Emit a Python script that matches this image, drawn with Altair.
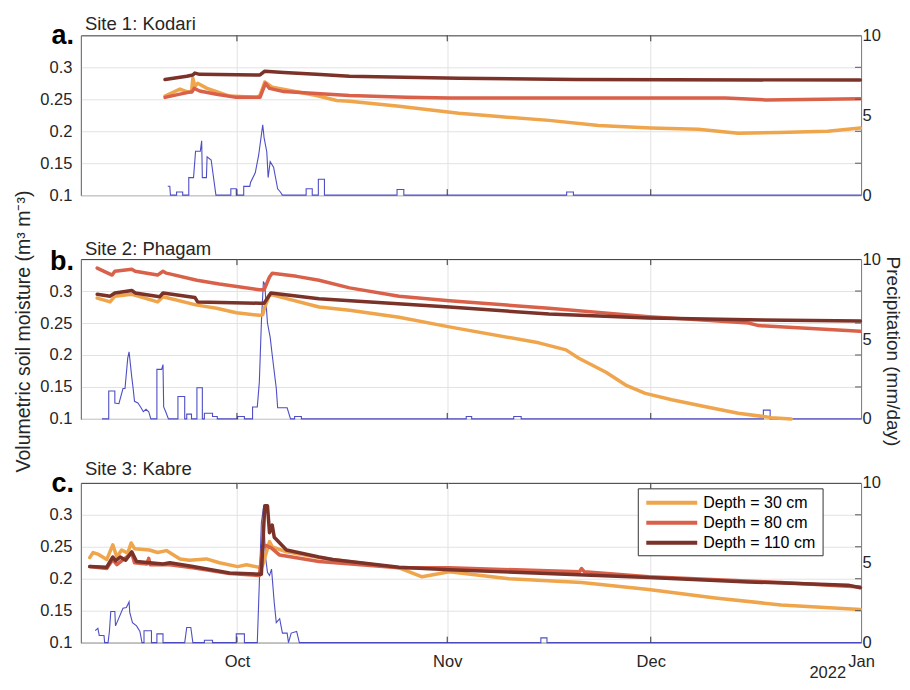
import altair as alt
import pandas as pd

FONT = "Liberation Sans"
TXT = "#262626"
GRID = "#e2e2e2"
BLUE = "#3b3bbf"

DEPTHS = ["Depth = 30 cm", "Depth = 80 cm", "Depth = 110 cm"]
DEPTH_COLORS = ["#EFA54C", "#D9614A", "#7A3229"]
SITE_TITLES = ["Site 1: Kodari", "Site 2: Phagam", "Site 3: Kabre"]
PANEL_LETTERS = ["a.", "b.", "c."]
MONTH_TICKS = ["2021-10-01", "2021-11-01", "2021-12-01"]
SM_TICKS = [0.15, 0.2, 0.25, 0.3]
YEAR_LABEL = ["2022"]
LEGEND_ROWS = [0, 1, 2]
LEFT_TITLE = "Volumetric soil moisture (m³ m⁻³)"
RIGHT_TITLE = "Precipitation (mm/day)"

# (days since 2021-09-01, volumetric soil moisture)
KOD_30 = [(19.4,0.255),(21.6,0.266),(22.6,0.262),(23.3,0.261),(23.5,0.283),(23.8,0.270),(24.2,0.275),
          (25.6,0.267),(27.0,0.262),(28.9,0.255),(32.9,0.253),(33.4,0.256),(34.1,0.277),(35.2,0.269),
          (39.2,0.261),(41.7,0.256),(44.7,0.248),(46.6,0.247),(53.9,0.239),(62.7,0.228),(68.6,0.223),
          (76.0,0.217),(83.3,0.209),(91.0,0.205),(98.0,0.203),(103.9,0.197),(109.8,0.198),(117.1,0.200),
          (121.9,0.205)]
KOD_80 = [(19.4,0.253),(21.6,0.258),(23.4,0.262),(23.7,0.267),(24.5,0.263),(27.0,0.258),(29.9,0.253),
          (33.4,0.253),(34.2,0.275),(34.8,0.267),(36.9,0.262),(41.7,0.259),(46.6,0.256),(55.0,0.253),
          (61.3,0.252),(102.0,0.252),(108.0,0.249),(121.9,0.251)]
KOD_110 = [(19.4,0.281),(22.6,0.286),(23.5,0.288),(23.8,0.291),(24.5,0.289),(33.4,0.288),(34.1,0.294),
           (36.9,0.292),(41.7,0.289),(46.6,0.286),(62.7,0.283),(80.0,0.281),(121.9,0.280)]

PHA_30 = [(9.4,0.289),(11.3,0.283),(12.0,0.292),(14.5,0.295),(18.3,0.283),(19.1,0.291),(24.1,0.278),
          (27.0,0.273),(29.9,0.266),(33.3,0.262),(33.8,0.263),(34.1,0.275),(34.8,0.294),(35.2,0.294),
          (42.1,0.275),(46.6,0.270),(53.9,0.259),(61.3,0.244),(74.5,0.219),(78.5,0.208),(80.4,0.195),
          (84.4,0.173),(87.3,0.153),(90.2,0.140),(94.1,0.130),(99.1,0.119),(103.9,0.109),(108.8,0.102),
          (111.7,0.100)]
PHA_80 = [(9.4,0.336),(11.6,0.325),(12.0,0.331),(14.5,0.334),(15.0,0.331),(18.3,0.325),(19.1,0.331),
          (19.6,0.328),(24.1,0.317),(27.4,0.311),(33.3,0.302),(34.0,0.302),(34.8,0.322),(35.2,0.328),
          (38.8,0.323),(42.1,0.317),(46.6,0.305),(53.9,0.292),(61.3,0.285),(76.0,0.273),(90.7,0.260),
          (105.4,0.250),(106.9,0.246),(121.9,0.237)]
PHA_110 = [(9.4,0.295),(11.3,0.292),(12.0,0.297),(14.5,0.301),(15.0,0.297),(18.6,0.291),(19.1,0.297),
           (23.8,0.290),(24.2,0.283),(33.3,0.281),(34.0,0.281),(35.0,0.297),(42.1,0.288),(61.3,0.275),
           (76.0,0.264),(90.7,0.258),(105.4,0.255),(121.9,0.253)]

KAB_30 = [(8.3,0.233),(8.8,0.241),(9.6,0.238),(10.8,0.230),(11.7,0.253),(12.3,0.234),(13.0,0.245),
          (13.9,0.240),(14.4,0.256),(14.9,0.247),(17.1,0.245),(18.3,0.241),(19.6,0.244),(21.6,0.231),
          (23.0,0.229),(25.5,0.231),(27.4,0.225),(30.1,0.219),(31.4,0.222),(33.6,0.217),(33.8,0.222),
          (34.8,0.258),(35.2,0.250),(37.3,0.242),(42.1,0.233),(53.9,0.217),(57.3,0.203),(61.3,0.211),
          (70.1,0.200),(80.8,0.194),(90.7,0.183),(100.5,0.170),(110.2,0.159),(121.9,0.152)]
KAB_80 = [(8.3,0.219),(10.8,0.216),(11.7,0.230),(12.3,0.222),(13.0,0.228),(14.5,0.240),(14.9,0.225),
          (16.7,0.223),(17.0,0.232),(17.2,0.222),(20.1,0.222),(23.5,0.217),(28.9,0.208),(33.3,0.205),
          (33.8,0.250),(34.3,0.252),(35.1,0.248),(36.3,0.237),(42.1,0.227),(53.9,0.217),(61.3,0.217),
          (80.5,0.211),(80.8,0.216),(81.2,0.211),(90.7,0.203),(110.2,0.194),(121.9,0.187)]
KAB_110 = [(8.3,0.219),(10.8,0.218),(11.7,0.234),(12.1,0.228),(12.8,0.234),(13.6,0.229),(14.5,0.242),
           (15.2,0.227),(19.1,0.223),(20.1,0.225),(23.5,0.219),(28.9,0.209),(33.6,0.207),(34.1,0.314),
           (34.5,0.314),(34.8,0.272),(35.2,0.284),(35.5,0.265),(37.3,0.245),(42.1,0.234),(44.1,0.230),
           (53.9,0.218),(61.3,0.214),(90.7,0.202),(105.4,0.195),(120.1,0.190),(121.9,0.186)]

# (days since 2021-09-01, precipitation mm/day)
KOD_RAIN = [(19.8,0.56),(20.1,0.56),(20.2,0),(21.1,0),(21.1,0.2),(22.0,0.2),(22.0,0),(22.9,0),(22.9,1.1),
            (23.6,1.1),(23.9,2.75),(24.6,2.75),(24.8,3.4),(24.9,1.1),(25.5,1.1),(25.6,2.4),(26.2,2.2),
            (26.9,0),(29.1,0),(29.1,0.4),(29.9,0.4),(29.9,0),(31.0,0),(31.0,0.55),(31.9,0.55),(32.0,0.8),
            (32.7,1.4),(33.2,2.5),(33.8,4.4),(34.0,3.6),(34.4,2.7),(34.6,1.1),(34.9,2.1),(35.4,1.75),
            (36.0,0.4),(36.4,0.2),(36.7,0),(40.2,0),(40.2,0.4),(41.1,0.4),(41.1,0),(42.0,0),(42.0,1.0),
            (42.9,1.0),(42.9,0),(53.6,0),(53.6,0.35),(54.6,0.35),(54.6,0),(78.6,0),(78.6,0.2),(79.6,0.2),
            (79.6,0),(122.0,0)]
PHA_RAIN = [(10.1,0),(11.1,0),(11.1,1.75),(12.0,1.75),(12.0,1.0),(12.6,0.95),(13.2,1.9),(13.5,1.9),
            (13.9,3.8),(14.1,4.2),(14.5,2.6),(14.7,1.9),(14.9,1.1),(15.4,1.0),(15.8,0.75),(16.2,0.45),
            (16.6,0.6),(17.0,0.45),(17.3,0),(18.2,0),(18.2,3.1),(18.9,3.1),(19.1,3.4),(19.2,0.75),
            (19.5,0.45),(19.9,0),(21.3,0),(21.3,1.4),(22.3,1.4),(22.3,0),(22.6,0),(22.6,0.3),(23.3,0.3),
            (23.3,0),(24.1,0),(24.1,1.95),(24.9,1.95),(24.9,0),(25.2,0),(25.2,0.35),(26.4,0.35),
            (26.4,0.15),(27.1,0.15),(27.1,0),(30.1,0),(30.1,0.15),(31.1,0.15),(31.1,0),(32.3,0),
            (32.3,0.75),(33.0,0.75),(33.3,2.3),(33.6,6.0),(33.9,8.6),(34.1,8.4),(34.5,6.0),(34.9,5.1),
            (35.2,4.0),(35.8,1.9),(36.0,0.7),(37.4,0.7),(37.9,0),(38.5,0),(38.5,0.15),(39.5,0.15),
            (39.5,0),(63.8,0),(63.8,0.15),(64.6,0.15),(64.6,0),(70.8,0),(70.8,0.15),(71.9,0.15),(71.9,0),
            (107.6,0),(107.6,0.55),(108.6,0.55),(108.6,0),(122.0,0)]
KAB_RAIN = [(9.1,0.75),(9.5,0.9),(9.7,0.45),(10.4,0.45),(10.5,0),(11.0,0),(11.2,0.7),(11.4,1.95),
            (12.0,1.95),(12.1,1.05),(12.6,1.55),(13.2,2.15),(13.7,2.2),(14.1,2.55),(14.2,1.9),(14.6,1.25),
            (15.2,1.05),(15.7,0.7),(16.0,0),(16.3,0),(16.3,0.75),(17.4,0.75),(17.4,0),(18.2,0),(18.2,0.55),
            (19.1,0.55),(19.1,0),(22.3,0),(22.6,0.95),(23.2,0.95),(23.5,0),(25.2,0),(25.2,0.15),(26.4,0.15),
            (26.4,0),(29.9,0),(29.9,0.55),(31.1,0.55),(31.1,0),(33.0,0),(33.6,7.5),(33.9,8.4),(34.2,5.4),
            (34.5,4.4),(34.8,4.2),(35.1,4.6),(35.5,2.5),(35.8,1.25),(36.3,1.5),(36.7,0.6),(37.4,0.6),
            (37.6,0),(38.0,0.6),(38.8,0.7),(39.2,0),(74.8,0),(74.8,0.3),(75.7,0.3),(75.7,0),(122.0,0)]

SITES = [
    ([KOD_30, KOD_80, KOD_110], KOD_RAIN),
    ([PHA_30, PHA_80, PHA_110], PHA_RAIN),
    ([KAB_30, KAB_80, KAB_110], KAB_RAIN),
]

BASE = pd.Timestamp("2021-09-01")
W, H = 781, 160
TITLE_DY = [-5, -4, -8]
LETTER_DY = [9, 11, 9]


def series_df(pairs, name):
    df = pd.DataFrame(pairs, columns=["day", "value"])
    df["date"] = BASE + pd.to_timedelta(df["day"], unit="D")
    df["series"] = name
    df["idx"] = range(len(df))
    return df[["date", "value", "series", "idx"]]


XSCALE = alt.Scale(domain=[alt.DateTime(year=2021, month=9, date=8),
                           alt.DateTime(year=2022, month=1, date=1)])
X_VALUES = [alt.DateTime(year=2021, month=10, date=1), alt.DateTime(year=2021, month=11, date=1),
            alt.DateTime(year=2021, month=12, date=1), alt.DateTime(year=2022, month=1, date=1)]
CSCALE = alt.Scale(domain=DEPTHS, range=DEPTH_COLORS)


def label(text, **kw):
    return alt.Chart(pd.DataFrame({"t": [text]})).mark_text(font=FONT, **kw)


def panel(i):
    moist_series, rain = SITES[i]
    last = i == 2
    mid = i == 1
    md = pd.concat([series_df(s, DEPTHS[k]) for k, s in enumerate(moist_series)], ignore_index=True)
    rd = series_df(rain, "rain")

    xaxis = alt.Axis(values=X_VALUES, format="%b", labels=last, ticks=False, tickSize=0, domain=False,
                     grid=True, gridColor=GRID, title=None, labelFontSize=16.5, labelFont=FONT,
                     labelColor=TXT, labelPadding=11, labelFlush=False, labelOverlap=False)
    x = alt.X("date:T", scale=XSCALE, axis=xaxis)

    left_axis = alt.Axis(orient="left", values=[0.1, 0.15, 0.2, 0.25, 0.3], format=".2~f", grid=True,
                         gridColor=GRID, ticks=False, domain=True, domainColor="#7f7f7f",
                         labelFontSize=16.5, labelFont=FONT, labelColor=TXT, labelPadding=9,
                         title=LEFT_TITLE if mid else None, titleFontSize=19.5, titleFont=FONT,
                         titleFontWeight="normal", titleColor=TXT, titlePadding=6,
                         **({"titleY": 72} if mid else {}))
    y_sm = alt.Y("value:Q", scale=alt.Scale(domain=[0.1, 0.35], nice=False, zero=False), axis=left_axis)

    right_axis = alt.Axis(orient="right", values=[0, 5, 10], format="d", grid=False, ticks=False,
                          domain=True, domainColor="#7f7f7f", labelFontSize=16.5, labelFont=FONT,
                          labelColor=TXT, labelPadding=1,
                          title=RIGHT_TITLE if mid else None, titleFontSize=19, titleFont=FONT,
                          titleFontWeight="normal", titleColor=TXT, titlePadding=2,
                          **({"titleY": 92} if mid else {}))
    y_rain = alt.Y("value:Q", scale=alt.Scale(domain=[0, 10], nice=False), axis=right_axis)

    rain_layer = alt.Chart(rd).mark_line(color=BLUE, strokeWidth=1.1, opacity=0.9).encode(
        x=x, y=y_rain, order="idx:Q")

    lines = alt.Chart(md).mark_line(strokeWidth=3.5, strokeJoin="round", strokeCap="round").encode(
        x=x, y=y_sm,
        color=alt.Color("series:N", scale=CSCALE, sort=DEPTHS, legend=None),
        order="idx:Q")

    rtick_df = pd.DataFrame({"value": SM_TICKS})
    rticks = alt.Chart(rtick_df).mark_rule(color="#555555", strokeWidth=1).encode(
        y=y_sm, x=alt.value(W - 6), x2=alt.value(W))
    moist_layer = alt.layer(lines, rticks)

    mdf = pd.DataFrame({"date": pd.to_datetime(MONTH_TICKS)})
    top_ticks = alt.Chart(mdf).mark_rule(color="#333333", strokeWidth=1).encode(
        x=alt.X("date:T", scale=XSCALE, axis=xaxis), y=alt.value(0), y2=alt.value(6))
    bot_ticks = alt.Chart(mdf).mark_rule(color="#333333", strokeWidth=1).encode(
        x=alt.X("date:T", scale=XSCALE, axis=xaxis), y=alt.value(H - 6), y2=alt.value(H))

    letter = label(PANEL_LETTERS[i], align="right", baseline="alphabetic", fontSize=27,
                   fontWeight="bold", color="black").encode(
        text="t:N", x=alt.value(-7), y=alt.value(LETTER_DY[i]))
    title = label(SITE_TITLES[i], align="left", baseline="alphabetic", fontSize=18.5,
                  color=TXT).encode(text="t:N", x=alt.value(4), y=alt.value(TITLE_DY[i]))

    parts = [rain_layer, moist_layer, top_ticks, bot_ticks, letter, title]
    if last:
        year = label(YEAR_LABEL[0], align="right", baseline="alphabetic", fontSize=16.5,
                     color=TXT).encode(text="t:N", x=alt.value(W - 15), y=alt.value(H + 35))
        parts.append(year)

        leg_df = pd.DataFrame({"series": DEPTHS, "row": LEGEND_ROWS})
        leg_y = alt.Y("row:Q", scale=alt.Scale(domain=[0, 2], range=[20, 60]), axis=None)
        box = alt.Chart(pd.DataFrame({"k": [0]})).mark_rect(
            fill="white", stroke="#333333", strokeWidth=1).encode(
            x=alt.value(558), x2=alt.value(743), y=alt.value(6), y2=alt.value(73))
        sym = alt.Chart(leg_df).mark_rule(strokeWidth=4).encode(
            x=alt.value(566), x2=alt.value(617), y=leg_y,
            color=alt.Color("series:N", scale=CSCALE, legend=None))
        txt = alt.Chart(leg_df).mark_text(align="left", baseline="middle", fontSize=16, font=FONT,
                                          color="black").encode(
            x=alt.value(623), y=leg_y, text="series:N")
        parts.append(alt.layer(box, sym, txt))

    return alt.layer(*parts).resolve_scale(y="independent").properties(width=W, height=H)


chart = alt.vconcat(panel(0), panel(1), panel(2), spacing=64, bounds="flush").configure_view(
    stroke="#333333", strokeWidth=1).properties(
    padding={"left": 5, "top": 6, "right": 0, "bottom": 0}, background="white")

chart.save("out.html", embed_options={"renderer": "svg", "actions": False})
